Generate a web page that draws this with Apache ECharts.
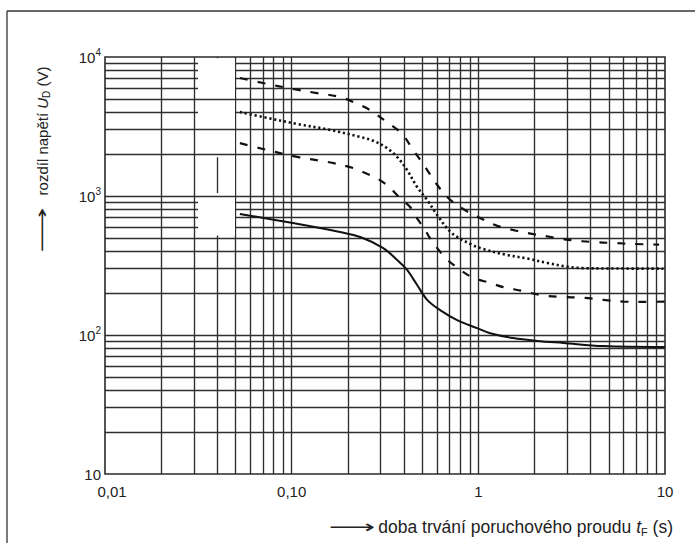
<!DOCTYPE html>
<html>
<head>
<meta charset="utf-8">
<script src="https://cdn.jsdelivr.net/npm/echarts@6/dist/echarts.min.js"></script>
<style>
html,body{margin:0;padding:0;background:#fff;}
#c{width:695px;height:543px;}
</style>
</head>
<body>
<div id="c"></div>
<script>
// ---- tick labels ----
const xTickValues = [0.01, 0.1, 1, 10];
const xTickLabels = ['0,01', '0,10', '1', '10'];
const yTickValues = [10, 100, 1000, 10000];
const yTickLabels = ['10', '10{s|2}', '10{s|3}', '10{s|4}'];

// ---- log grid (mantissas per decade) ----
const gridMantissas = [1, 2, 3, 4, 5, 6, 7, 8, 9];
const xDecades = [0.01, 0.1, 1];
const yDecades = [10, 100, 1000];

// ---- curves: fault duration t_F (s) and voltage U_D (V) ----
const curveA_t = [0.0528, 0.0702, 0.1016, 0.1367, 0.1816, 0.224, 0.263, 0.324, 0.391, 0.442, 0.519, 0.587, 0.681, 0.83, 1.02, 1.263, 1.618, 2.0, 2.49, 3.19, 4.09, 5.29, 6.77, 9.3];
const curveA_U = [7060, 6500, 5890, 5500, 5150, 4620, 4150, 3400, 2790, 2200, 1620, 1260, 984, 806, 695, 610, 560, 530, 505, 480, 467, 459, 452, 447];

const curveB_t = [0.0528, 0.0702, 0.1067, 0.1606, 0.2325, 0.273, 0.324, 0.367, 0.415, 0.470, 0.532, 0.602, 0.72, 0.92, 1.06, 1.4, 1.83, 2.34, 3.0, 3.6, 5.0, 9.8];
const curveB_U = [4020, 3700, 3300, 2990, 2660, 2500, 2210, 1910, 1540, 1160, 936, 730, 542, 447, 416, 378, 355, 330, 310, 303, 301, 300];

const curveC_t = [0.0528, 0.0702, 0.1067, 0.1547, 0.2133, 0.241, 0.297, 0.337, 0.381, 0.431, 0.470, 0.519, 0.552, 0.66, 0.80, 0.939, 1.158, 1.361, 1.742, 2.148, 2.75, 3.66, 4.67, 5.99, 7.67, 10];
const curveC_U = [2400, 2180, 1910, 1760, 1590, 1490, 1300, 1140, 967, 833, 690, 569, 495, 364, 294, 258, 237, 221, 207, 194, 188, 185, 179, 174, 173, 174];

const curveD_t = [0.0528, 0.1016, 0.1816, 0.235, 0.308, 0.367, 0.415, 0.470, 0.532, 0.624, 0.770, 0.986, 1.158, 1.539, 2.07, 2.86, 4.67, 10];
const curveD_U = [743, 639, 551, 505, 423, 347, 294, 229, 179, 151, 128, 112, 103, 95, 90.6, 87.6, 83.3, 82];

// ---- erased (white) patch of the scan ----
const patchX = [0.0315, 0.0497];
const patchY = [520, 9800];
const patchVisibleY = [1000, 2000, 3000, 5000];
const patchVisibleX = 0.04;
const patchVisibleXRange = [1050, 1900];

const zip = (a, b) => a.map((v, i) => [v, b[i]]);
const FONT = "'Liberation Sans', Arial, Helvetica, sans-serif";
const INK = '#222';
const GRID_INK = '#2e2e2e';
const GRID_W = 1.35;

const gridX = [];
xDecades.forEach(d => gridMantissas.forEach(m => { const v = Number((m * d).toPrecision(3)); if (v > 0.01) gridX.push(v); }));
const gridY = [];
yDecades.forEach(d => gridMantissas.forEach(m => { const v = Number((m * d).toPrecision(3)); if (v > 10) gridY.push(v); }));

function curve(name, t, u, lineType, width) {
  return {
    name: name, type: 'line', data: zip(t, u), z: 10,
    symbol: 'none', smooth: 0.35, silent: true,
    lineStyle: { color: '#111', width: width, type: lineType, cap: 'butt' }
  };
}

const arrowStyle = { text: '⟶', align: 'center', verticalAlign: 'middle', fontFamily: "'DejaVu Sans', sans-serif", fontSize: 18, fill: INK };

const chart = echarts.init(document.getElementById('c'), null, { renderer: 'svg' });
chart.setOption({
  animation: false,
  backgroundColor: '#fff',
  grid: { left: 105, right: 30, top: 57, bottom: 69, show: true, borderColor: '#2a2a2a', borderWidth: 1.6, backgroundColor: 'transparent', containLabel: false },
  xAxis: {
    type: 'log', logBase: 10, min: 0.01, max: 10,
    axisLine: { show: false }, axisTick: { show: false }, splitLine: { show: false },
    axisLabel: {
      color: INK, fontFamily: FONT, fontSize: 15, margin: 10,
      formatter: function (v) {
        const i = Math.round(Math.log10(v)) + 2;
        if (i === 0) return '{f|' + xTickLabels[0] + '}';
        return xTickLabels[i];
      },
      rich: { f: { fontFamily: FONT, fontSize: 15, color: INK, padding: [0, 0, 0, 14] } }
    }
  },
  yAxis: {
    type: 'log', logBase: 10, min: 10, max: 10000,
    axisLine: { show: false }, axisTick: { show: false }, splitLine: { show: false },
    axisLabel: {
      color: INK, fontFamily: FONT, fontSize: 15, margin: 4, lineHeight: 20,
      formatter: function (v) {
        const i = Math.round(Math.log10(v)) - 1;
        return yTickLabels[i];
      },
      rich: { s: { fontFamily: FONT, fontSize: 10, color: INK, verticalAlign: 'top', lineHeight: 10 } }
    }
  },
  series: [
    {
      type: 'line', data: [], z: 1, silent: true, symbol: 'none',
      markLine: {
        z: 1, silent: true, symbol: 'none', animation: false,
        label: { show: false },
        lineStyle: { color: GRID_INK, width: GRID_W, type: 'solid' },
        emphasis: { disabled: true },
        data: gridX.map(v => ({ xAxis: v })).concat(gridY.map(v => ({ yAxis: v })))
      }
    },
    {
      type: 'line', data: [], z: 3, silent: true, symbol: 'none',
      markArea: {
        z: 3, silent: true, animation: false,
        itemStyle: { color: '#ffffff', opacity: 1 },
        label: { show: false },
        data: [[{ xAxis: patchX[0], yAxis: patchY[0] }, { xAxis: patchX[1], yAxis: patchY[1] }]]
      }
    },
    {
      type: 'line', data: [], z: 4, silent: true, symbol: 'none',
      markLine: {
        z: 4, silent: true, symbol: 'none', animation: false,
        label: { show: false },
        lineStyle: { color: GRID_INK, width: GRID_W, type: 'solid' },
        emphasis: { disabled: true },
        data: patchVisibleY.map(v => [{ coord: [patchX[0], v] }, { coord: [patchX[1], v] }])
          .concat([[{ coord: [patchVisibleX, patchVisibleXRange[0]] }, { coord: [patchVisibleX, patchVisibleXRange[1]] }]])
      }
    },
    curve('A', curveA_t, curveA_U, [8, 10], 2.2),
    curve('B', curveB_t, curveB_U, [2.2, 2.8], 2.6),
    curve('C', curveC_t, curveC_U, [8, 10], 2.2),
    curve('D', curveD_t, curveD_U, 'solid', 2)
  ],
  graphic: [
    { type: 'line', silent: true, shape: { x1: 7, y1: 11, x2: 695, y2: 11 }, style: { stroke: '#333', lineWidth: 1.3 } },
    { type: 'line', silent: true, shape: { x1: 7, y1: 11, x2: 7, y2: 543 }, style: { stroke: '#333', lineWidth: 1.3 } },
    { type: 'text', x: 42, y: 230, rotation: Math.PI / 2, scaleX: 1.75, silent: true, style: arrowStyle },
    {
      type: 'text', x: 42, y: 131, rotation: Math.PI / 2, silent: true,
      style: {
        text: 'rozdíl napětí {i|U}{sub|D} (V)',
        align: 'center', verticalAlign: 'middle',
        fontFamily: FONT, fontSize: 15, fill: INK,
        rich: {
          i: { fontFamily: FONT, fontSize: 15, fontStyle: 'italic', fill: INK, lineHeight: 18 },
          sub: { fontFamily: FONT, fontSize: 10, fill: INK, verticalAlign: 'bottom', lineHeight: 10 }
        }
      }
    },
    { type: 'text', x: 352, y: 527, scaleX: 1.8, silent: true, style: arrowStyle },
    {
      type: 'text', x: 673, y: 527, silent: true,
      style: {
        text: 'doba trvání poruchového proudu {i|t}{sub|F} (s)',
        align: 'right', verticalAlign: 'middle',
        fontFamily: FONT, fontSize: 17.5, fill: INK,
        rich: {
          i: { fontFamily: FONT, fontSize: 17.5, fontStyle: 'italic', fill: INK, lineHeight: 20 },
          sub: { fontFamily: FONT, fontSize: 11, fill: INK, verticalAlign: 'bottom', lineHeight: 11 }
        }
      }
    }
  ]
});
</script>
</body>
</html>
